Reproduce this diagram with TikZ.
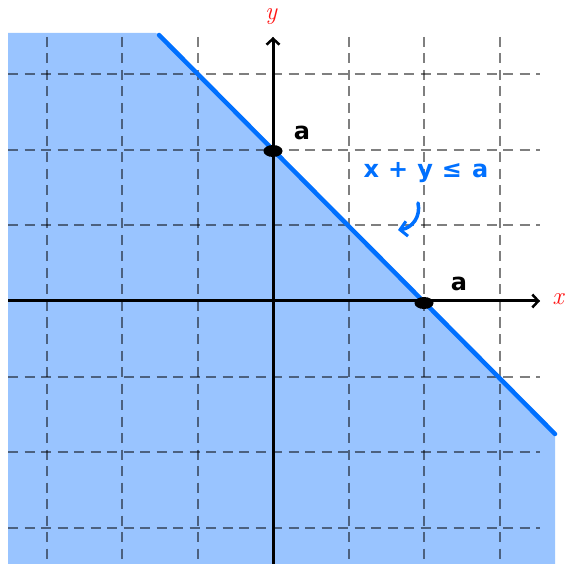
\documentclass[tikz,border=0pt]{standalone}
\usepackage{fontspec}
\newfontfamily\hand{DejaVu Sans}
\usetikzlibrary{arrows.meta,shapes.geometric}
\definecolor{fillblue}{RGB}{153,196,255}
\definecolor{lineblue}{RGB}{0,112,255}
\definecolor{axred}{RGB}{255,20,20}
\tikzset{
  gridline/.style={black, opacity=0.5, line width=2pt, dash pattern=on 10pt off 6.5pt},
  axis/.style={black, line width=3pt, -{Straight Barb[length=6pt,width=13pt,line width=2.5pt]}},
  pt/.style={ellipse, fill=black, minimum width=19pt, minimum height=12pt, inner sep=0pt},
  axlabel/.style={text=axred, inner sep=0pt, font=\itshape\fontsize{25}{25}\selectfont},
  handlabel/.style={inner sep=0pt, font=\hand\bfseries\fontsize{24}{24}\selectfont},
}
\begin{document}
\begin{tikzpicture}[x=1pt,y=-1pt]
\useasboundingbox (0,0) rectangle (568,564);
% fill region
\fill[fillblue] (8,33) -- (156,33) -- (555,432) -- (555,564) -- (8,564) -- cycle;
% grid
\foreach \k in {-3,...,3} {
  \draw[gridline] ({273+\k*75.5},37) -- ({273+\k*75.5},564);
  \draw[gridline] (8,{301+\k*75.5}) -- (540,{301+\k*75.5});
}
% axes
\coordinate (xs) at (8,301);
\coordinate (xe) at (540,301);
\coordinate (ys) at (273,564);
\coordinate (ye) at (273,37);
\draw[axis] (xs) -- (xe);
\draw[axis] (ys) -- (ye);
\node[axlabel] (xl) at (558,299) {x};
\node[axlabel] (yl) at (271,17) {y};
% boundary line
\coordinate (ls) at (159,35);
\coordinate (le) at (555,434);
\draw[lineblue, line width=4.5pt, line cap=round] (ls) -- (le);
% points
\node[pt] (pa) at (273,151) {};
\node[pt] (pb) at (424,303) {};
\node[handlabel] (la) at (302,133) {a};
\node[handlabel] (lb) at (459,284) {a};
% inequality
\node[handlabel, text=lineblue] (ineq) at (426,173) {x\hspace{9pt}+\hspace{9pt}y\hspace{9pt}≤\hspace{10pt}a};
\coordinate (cs) at (418,203);
\coordinate (ce) at (398,230);
\draw[lineblue, line width=3.5pt, line cap=round, -{Straight Barb[length=7pt,width=15pt,line width=3pt]}]
  (cs) .. controls (421,217) and (412,228) .. (ce);
\end{tikzpicture}
\end{document}
